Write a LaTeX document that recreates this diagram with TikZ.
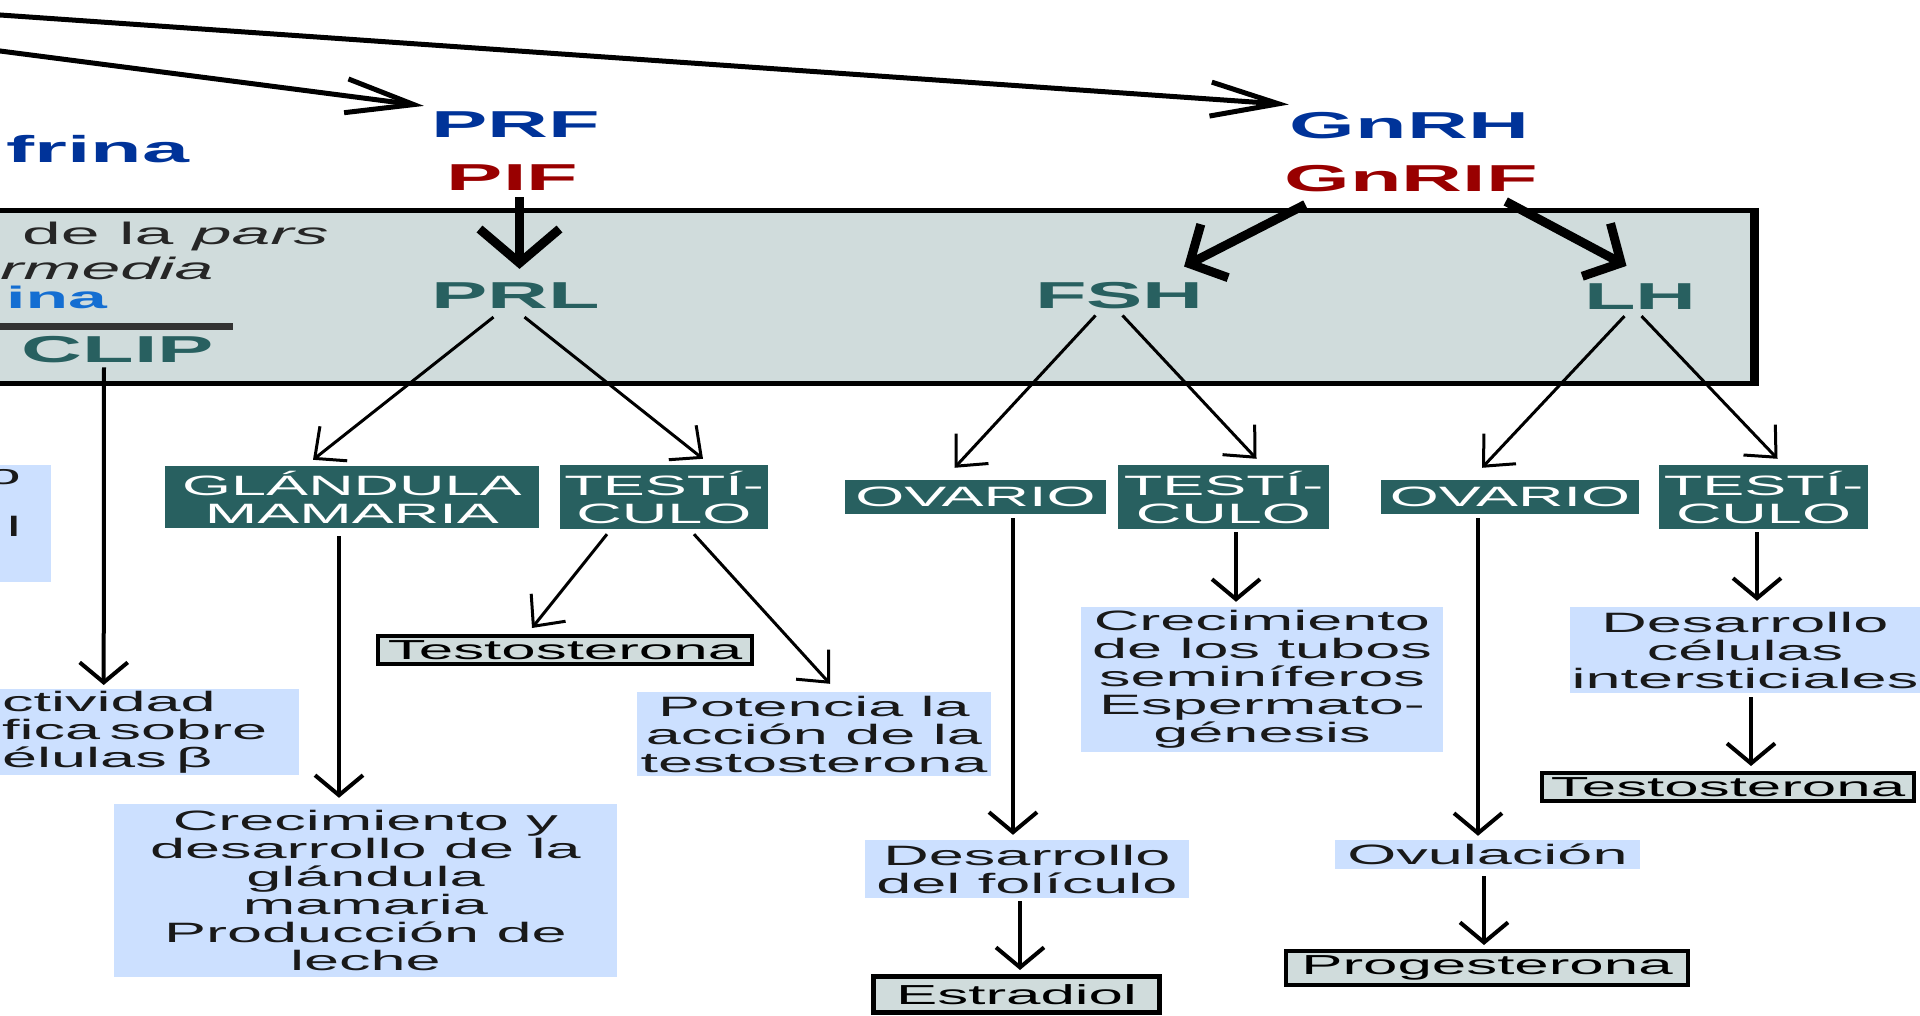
\documentclass[tikz,border=0pt]{standalone}
\usepackage{fontspec}
\setmainfont{Liberation Sans}[FakeStretch=2.25]
\usetikzlibrary{arrows.meta}

\definecolor{tealbox}{RGB}{40,96,96}
\definecolor{panelgray}{RGB}{208,220,220}
\definecolor{lightblue}{RGB}{204,224,255}
\definecolor{hormblue}{RGB}{0,51,153}
\definecolor{hormred}{RGB}{153,0,0}
\definecolor{skyblue}{RGB}{20,110,210}

\tikzset{
  organ/.style={fill=tealbox, text=white, inner sep=0pt, align=center, font=\fontsize{28}{28}\selectfont},
  effect/.style={fill=lightblue, text=black!90, inner sep=0pt, align=center, font=\fontsize{28}{28}\selectfont},
  product/.style={draw=black, line width=4pt, fill=panelgray, inner sep=0pt, font=\fontsize{27.5}{27.5}\selectfont},
  hormone/.style={inner sep=0pt, font=\bfseries\fontsize{37.5}{37.5}\selectfont},
  parstext/.style={inner sep=0pt, anchor=base west, text=black!85, font=\fontsize{31}{31}\selectfont},
  thinarrow/.style={-{Straight Barb[length=24pt,width=44pt]}, line width=3pt},
  vertarrow/.style={-{Straight Barb[length=20pt,width=48pt]}, line width=4pt},
  bigarrow/.style={-{Straight Barb[length=34pt,width=80pt]}, line width=9pt},
  slantarrow/.style={-{Straight Barb[length=28pt,width=60pt]}, line width=9pt},
  longarrow/.style={-{Straight Barb[length=68pt,width=34pt]}, line width=5pt},
}

\begin{document}
\begin{tikzpicture}[x=1pt, y=-1pt]

  \useasboundingbox (0,0) rectangle (1920,1016);
  \clip (0,0) rectangle (1920,1016);

  % Panel
  \draw[line width=5pt, fill=panelgray] (-10,210.5) rectangle (1752,383.5);
  \draw[line width=9pt] (1754,208) -- (1754,386);
  \draw[line width=7pt, black!80] (-10,327) -- (233,327);

  % Releasing and inhibiting factors
  \node[hormone, text=hormblue, anchor=base west] (frina) at (6,163) {frina};
  \node[hormone, text=hormblue] (prf) at (515.5,125) {PRF};
  \node[hormone, text=hormred] (pif) at (512.5,178) {PIF};
  \node[hormone, text=hormblue] (gnrh) at (1409.5,126) {GnRH};
  \node[hormone, text=hormred] (gnrif) at (1411,179) {GnRIF};

  % Pituitary hormones
  \node[parstext] (parsA) at (22,245) {de la \textit{pars}};
  \node[parstext] (parsB) at (0,280) {\textit{rmedia}};
  \node[parstext, text=skyblue, font=\bfseries\fontsize{31}{31}\selectfont] (parsC) at (6,309) {ina};
  \node[hormone, text=tealbox] (clip) at (118,350) {CLIP};
  \node[hormone, text=tealbox] (prl) at (515.5,296) {PRL};
  \node[hormone, text=tealbox] (fsh) at (1119.5,296) {FSH};
  \node[hormone, text=tealbox] (lh) at (1640.5,297) {LH};

  % Target organs
  \foreach \nm/\cx/\w/\h/\txt in {gland/352/374/62/{GLÁNDULA\\MAMARIA}, testA/664/208/64/{TESTÍ-\\CULO},
      ovA/975.5/261/34/OVARIO, testB/1223.5/211/64/{TESTÍ-\\CULO},
      ovB/1510/258/34/OVARIO, testC/1763.5/209/64/{TESTÍ-\\CULO}} {
    \node[organ, minimum width=\w pt, minimum height=\h pt] (\nm) at (\cx,497) {\txt};
  }

  % Effects
  \fill[lightblue] (-1,465) rectangle (51,582);
  \node[inner sep=0pt, align=right, anchor=north east, text=black!90, font=\fontsize{28}{28}\selectfont] (lbA) at (21,469) {o\\[-4pt]\mbox{}\\l};
  \node[effect, anchor=north west, text width=294pt, align=left, inner xsep=3pt, minimum height=86pt] (insul) at (-1,689) {ctividad\\fica sobre\\élulas β};
  \node[effect, minimum width=503pt, minimum height=173pt] (creceA) at (365.5,890.5) {Crecimiento y\\desarrollo de la\\glándula\\mamaria\\Producción de\\leche};
  \node[effect, minimum width=354pt, minimum height=84pt] (potencia) at (814,734) {Potencia la\\acción de la\\testosterona};
  \node[effect, minimum width=324pt, minimum height=58pt] (folic) at (1027,869) {Desarrollo\\del folículo};
  \node[effect, minimum width=362pt, minimum height=145pt] (tubos) at (1262,679.5) {Crecimiento\\de los tubos\\seminíferos\\Espermato-\\génesis};
  \node[effect, minimum width=305pt, minimum height=29pt] (ovul) at (1487.5,854.5) {Ovulación};
  \node[effect, minimum width=350pt, minimum height=86pt] (inters) at (1745,650) {Desarrollo\\células\\intersticiales};

  % Products
  \node[product, minimum width=374pt, minimum height=28pt] (testoA) at (565,650) {Testosterona};
  \node[product, line width=5pt, minimum width=286pt, minimum height=36pt] (estrad) at (1016.5,994.5) {Estradiol};
  \node[product, minimum width=402pt, minimum height=34pt] (proges) at (1487,968) {Progesterona};
  \node[product, minimum width=372pt, minimum height=28pt] (testoB) at (1728,787) {Testosterona};

  % Arrows coming in from the left
  \coordinate (srcA) at (-20,13.6);
  \coordinate (srcB) at (-20,48.4);
  \draw[longarrow] (srcA) -- ([xshift=-1pt,yshift=8pt]gnrh.north west);
  \draw[longarrow] (srcB) -- ([xshift=-7pt,yshift=6pt]prf.north west);

  % Thick arrows into the panel
  \draw[bigarrow] ([xshift=7pt,yshift=-6pt]pif.south) -- ([xshift=4pt,yshift=14pt]prl.north);
  \draw[slantarrow] ([xshift=21pt,yshift=-12pt]gnrif.south west) -- ([xshift=-20pt,yshift=16pt]fsh.north east);
  \draw[slantarrow] ([xshift=-32pt,yshift=-9pt]gnrif.south east) -- ([xshift=-14pt,yshift=18pt]lh.north);

  % Hormones to organs
  \foreach \a/\sa/\b/\sb in {prl.south/{-22,8}/gland.north/{-39,-6}, prl.south/{9,8}/testA.north/{39,-6},
      fsh.south/{-24,6}/ovA.north/{-21,-12}, fsh.south/{3,6}/testB.north/{33,-6},
      lh.south/{-16,6}/ovB.north/{-28,-12}, lh.south/{1,6}/testC.north/{14,-6},
      testA.south/{-57,5}/testoA.north/{-33,-6}, testA.south/{30,5}/potencia.north/{16,-8}} {
    \draw[thinarrow] ([shift={(\sa)}]\a) -- ([shift={(\sb)}]\b);
  }

  % Organs to effects and products
  \foreach \a/\sa/\b/\sb in {clip.south/{-14,4}/insul.north/{-45.5,-4}, gland.south/{-13,8}/creceA.north/{-26.5,-6},
      ovA.south/{37.5,4}/folic.north/{-14,-5}, folic.south/{-7,3}/estrad.north/{3.5,-4},
      testB.south/{12.5,3}/tubos.north/{-26,-5}, ovB.south/{-32,4}/ovul.north/{-9.5,-4},
      ovul.south/{-3.5,7}/proges.north/{-3,-4}, testC.south/{-6.5,3}/inters.north/{12,-6},
      inters.south/{6,4}/testoB.north/{23,-5}} {
    \draw[vertarrow] ([shift={(\sa)}]\a) -- ([shift={(\sb)}]\b);
  }

\end{tikzpicture}
\end{document}
